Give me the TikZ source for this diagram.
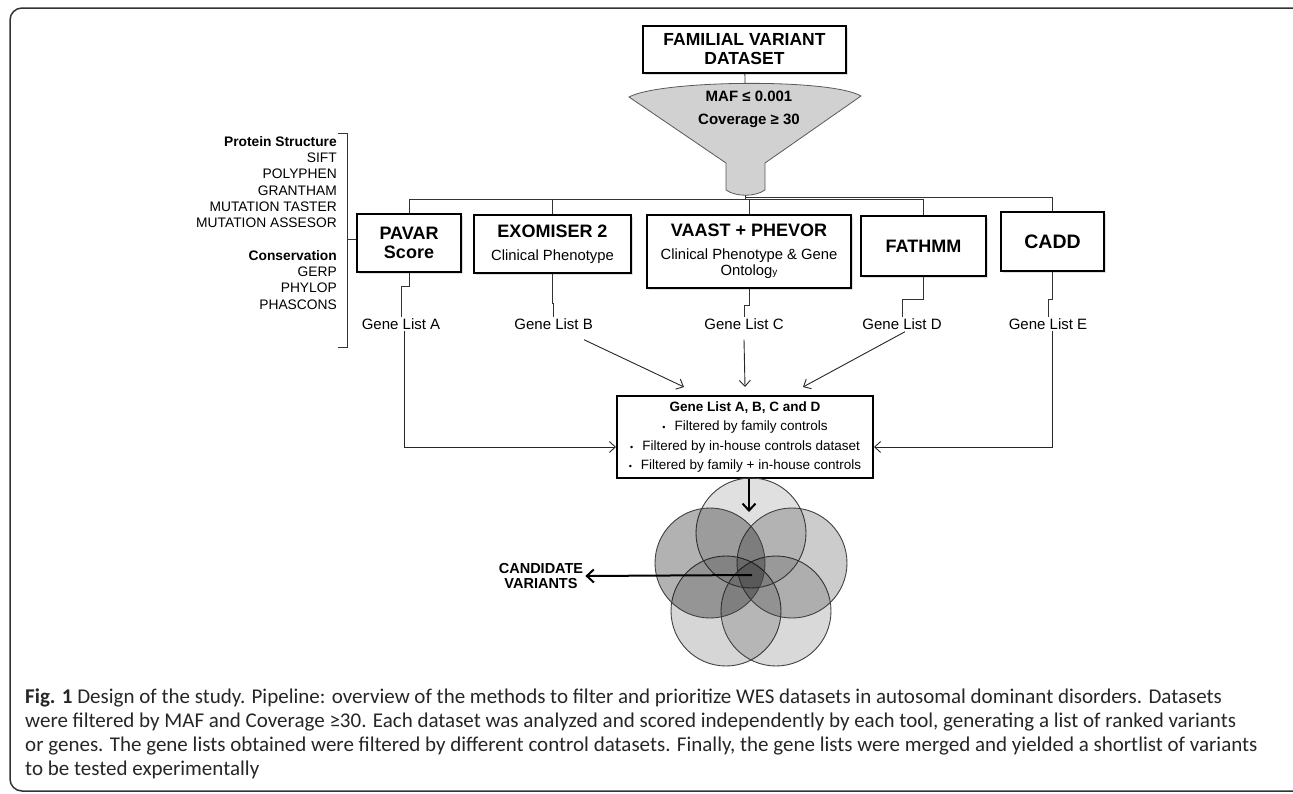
\documentclass[tikz,border=0pt]{standalone}
\usepackage{fontspec}
\setmainfont{Liberation Sans}
\newfontfamily\capfont{Carlito}
\usetikzlibrary{arrows.meta,shadows}

\def\sz#1{\fontsize{#1}{#1}\selectfont}

\begin{document}
\begin{tikzpicture}[x=1pt, y=-1pt,
  tool/.style={draw, line width=1.5pt, fill=white, align=center, inner sep=2pt,
    drop shadow={shadow xshift=1.5pt, shadow yshift=-1.5pt, opacity=0.25}},
  lnk/.style={draw, line width=0.8pt, black!80},
  arr/.style={draw, line width=0.9pt, black!85, -{Straight Barb[length=6pt,width=11pt]}},
  bigarr/.style={draw, line width=2pt, -{Straight Barb[length=7pt,width=13pt]}},
  gl/.style={font=\sz{15}, inner sep=1pt},
  vset/.style={draw=black!75, circle, minimum size=110pt, line width=0.9pt, fill=black}]

  \useasboundingbox (0,0) rectangle (1293,793);
  \draw[rounded corners=12pt, line width=1.5pt, black!80] (10,8) rectangle (1306,791);

  \node[tool, minimum width=203pt, minimum height=47pt, font=\fontsize{17.5}{19}\selectfont\bfseries] (fvd) at (744.5,49.5) {FAMILIAL VARIANT\\DATASET};

  \filldraw[fill=black!18, draw=black!65, line width=0.8pt]
    (629,97) .. controls (660,80) and (830,78) .. (861,96) -- (765,163) -- (765,190)
    .. controls (755,197) and (736,197) .. (726,190) -- (726,163) -- cycle;
  \coordinate (ftop) at (745,83);
  \coordinate (fbot) at (745,195);
  \node[font=\fontsize{15}{23}\selectfont\bfseries, align=center] (maf) at (749,109) {MAF ≤ 0.001\\Coverage ≥ 30};
  \draw[lnk] (fvd) -- (ftop);

  \node[tool, minimum width=104pt, minimum height=58pt, font=\fontsize{18}{19}\selectfont\bfseries] (pavar) at (409,243) {PAVAR\\Score};
  \node[tool, minimum width=157pt, minimum height=58pt, font=\fontsize{14.8}{17}\selectfont] (exo) at (552.5,244) {{\sz{18}\bfseries EXOMISER 2}\\[6pt]Clinical Phenotype};
  \node[tool, minimum width=204pt, minimum height=73pt, font=\fontsize{14.8}{16}\selectfont] (vaast) at (749,251.5) {{\sz{18}\bfseries VAAST + PHEVOR}\\[7pt]Clinical Phenotype \& Gene\\Ontolog{\sz{10}y}};
  \node[tool, minimum width=125pt, minimum height=60pt, font=\sz{18}\bfseries] (fathmm) at (923.5,246) {FATHMM};
  \node[tool, minimum width=103pt, minimum height=59pt, font=\sz{19.5}\bfseries] (cadd) at (1052.5,241.5) {CADD};

  \coordinate (bus) at (745,200);
  \draw[lnk] (fbot) -- (bus);
  \draw[lnk] (pavar.north) -- ++(0,-14) -| (fathmm.north);
  \draw[lnk] (exo.north) -- (exo.north |- bus);
  \draw[lnk] (vaast.north) -- (vaast.north |- bus);
  \draw[lnk] (fbot) -- ++(0,2) -| (cadd.north);

  \node[font=\fontsize{13.8}{16.3}\selectfont, align=right, anchor=north east, inner sep=0pt] (crit) at (337,136)
    {\textbf{Protein Structure}\\SIFT\\POLYPHEN\\GRANTHAM\\MUTATION TASTER\\MUTATION ASSESOR\\[16.3pt]
     \textbf{Conservation}\\GERP\\PHYLOP\\PHASCONS};
  \coordinate (brtop) at (347,133);
  \coordinate (brbot) at (347,347);
  \coordinate (brmid) at (347,239);
  \draw[lnk] ([xshift=-9pt]brtop) -- (brtop) -- (brbot) -- ([xshift=-9pt]brbot);
  \draw[lnk] (brmid) -- (brmid -| pavar.west);

  \node[gl] (gla) at (401,324) {Gene List A};
  \node[gl] (glb) at (553.6,324) {Gene List B};
  \node[gl] (glc) at (744,324) {Gene List C};
  \node[gl] (gld) at (902,324) {Gene List D};
  \node[gl] (gle) at (1048,324) {Gene List E};

  \draw[lnk] (pavar.south) -- ++(0,14) -| (gla.north);
  \draw[lnk] (exo.south) -- ++(0,30) -| (glb.north);
  \draw[lnk] (vaast.south) -- ++(0,17) -| (glc.north);
  \draw[lnk] (fathmm.south) -- ++(0,23) -| (gld.north);
  \draw[lnk] (cadd.south) -- ++(0,28) -| (gle.north);

  \node[draw, line width=2pt, fill=white, minimum width=256pt, minimum height=82pt, align=center, inner sep=2pt,
    font=\fontsize{13.5}{19.5}\selectfont] (glist) at (745,437)
    {\textbf{Gene List A, B, C and D}\\
     {\sz{9}•}\hspace{9pt}Filtered by family controls\\
     {\sz{9}•}\hspace{9pt}Filtered by in-house controls dataset\\
     {\sz{9}•}\hspace{9pt}Filtered by family + in-house controls};

  \draw[arr] ([xshift=3pt]gla.south) |- ([yshift=-10pt]glist.west);
  \draw[arr] ([xshift=4pt]gle.south) |- ([yshift=-10pt]glist.east);
  \draw[arr] ([shift={(-10pt,-9pt)}]glb.south east) -- ([shift={(-61pt,8pt)}]glist.north);
  \draw[arr] ([yshift=-9pt]glc.south) -- ([yshift=8pt]glist.north);
  \draw[arr] ([shift={(3pt,-1pt)}]gld.south) -- ([shift={(58pt,8pt)}]glist.north);

  \node[vset, fill opacity=0.16] (vbl) at (726,611) {};
  \node[vset, fill opacity=0.15] (vbr) at (776,611) {};
  \node[vset, fill opacity=0.12] (vtop) at (751,533) {};
  \node[vset, fill opacity=0.2] (vright) at (792,563) {};
  \node[vset, fill opacity=0.3] (vleft) at (710,563) {};

  \coordinate (vc) at (752,575);
  \coordinate (vin) at (749,512);
  \draw[bigarr] (glist.south -| vin) -- (vin);
  \node[font=\fontsize{14.5}{15}\selectfont\bfseries, align=center, inner sep=2pt] (cand) at (541,576) {CANDIDATE\\VARIANTS};
  \draw[bigarr] (vc) -- (cand.east);

  \node[anchor=north west, align=left, inner sep=0pt, text=black!85, font=\capfont\fontsize{21}{24}\selectfont] (cap) at (25,689)
    {{\bfseries Fig. 1} Design of the study. Pipeline: overview of the methods to filter and prioritize WES datasets in autosomal dominant disorders. Datasets\\
     were filtered by MAF and Coverage ≥30. Each dataset was analyzed and scored independently by each tool, generating a list of ranked variants\\
     or genes. The gene lists obtained were filtered by different control datasets. Finally, the gene lists were merged and yielded a shortlist of variants\\
     to be tested experimentally};
\end{tikzpicture}
\end{document}
